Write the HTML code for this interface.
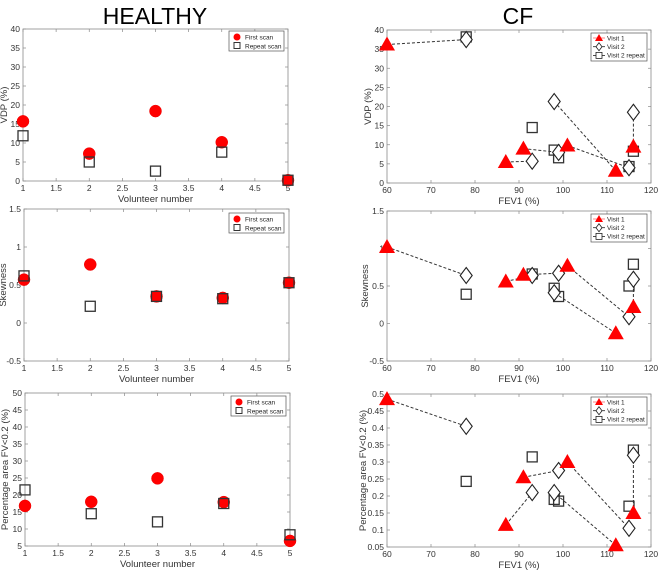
<!DOCTYPE html>
<html><head><meta charset="utf-8"><style>
body{margin:0;background:#fff;font-family:"Liberation Sans",sans-serif}
svg{display:block}
</style></head><body>
<svg id="fig" width="662" height="585" viewBox="0 0 662 585" xmlns="http://www.w3.org/2000/svg" font-family="Liberation Sans, sans-serif">
<text x="155" y="24" font-size="23" text-anchor="middle" fill="#000">HEALTHY</text>
<text x="518" y="24" font-size="23" text-anchor="middle" fill="#000">CF</text>
</svg>
<script>
// Healthy data
const volunteers=[1,2,3,4,5];
const vdpFirst=[15.7,7.2,18.4,10.2,0.2];
const vdpRepeat=[11.9,5.0,2.6,7.6,0.2];
const skewFirst=[0.57,0.77,0.35,0.33,0.53];
const skewRepeat=[0.62,0.22,0.35,0.32,0.53];
const areaFirst=[16.8,18.0,24.9,17.9,6.5];
const areaRepeat=[21.5,14.5,12.1,17.5,8.3];
const healthyXTicks=[1,1.5,2,2.5,3,3.5,4,4.5,5];
const vdpTicks=[0,5,10,15,20,25,30,35,40];
const skewTicks=[-0.5,0,0.5,1,1.5];
const areaTicks=[5,10,15,20,25,30,35,40,45,50];
// CF data (per subject)
const fevV1=[60,87,91,101,112,116];
const fevV2=[78,93,99,115,98,116];
const fevRep=[78,93,98,115,99,116];
const cfVdpV1=[36.2,5.5,9.0,9.8,3.2,9.5];
const cfVdpV2=[37.5,5.7,8.0,4.0,21.3,18.5];
const cfVdpRep=[38.2,14.5,8.6,4.3,6.6,8.3];
const cfSkewV1=[1.02,0.56,0.65,0.77,-0.13,0.22];
const cfSkewV2=[0.64,0.64,0.67,0.09,0.41,0.59];
const cfSkewRep=[0.39,0.66,0.47,0.5,0.36,0.79];
const cfAreaV1=[0.485,0.115,0.255,0.30,0.055,0.15];
const cfAreaV2=[0.405,0.21,0.275,0.105,0.21,0.32];
const cfAreaRep=[0.243,0.315,0.19,0.17,0.185,0.335];
const fevTicks=[60,70,80,90,100,110,120];
const cfVdpTicks=[0,5,10,15,20,25,30,35,40];
const cfSkewTicks=[-0.5,0,0.5,1,1.5];
const cfSkewLabels=['-0.5','0','0.5','1','1.5'];
const cfAreaTicks=[0.05,0.1,0.15,0.2,0.25,0.3,0.35,0.4,0.45,0.5];

const NS='http://www.w3.org/2000/svg';
const svg=document.getElementById('fig');
function mk(tag,attrs,parent){const e=document.createElementNS(NS,tag);for(const k in attrs)e.setAttribute(k,attrs[k]);(parent||svg).appendChild(e);return e;}
function fmt(v){return String(Math.round(v*100)/100);}

function panel(p){
  const g=mk('g',{});
  
  
  const sx=v=>p.x0+(v-p.xmin)/(p.xmax-p.xmin)*(p.x1-p.x0);
  const sy=v=>p.y0+(v-p.ymin)/(p.ymax-p.ymin)*(p.y1-p.y0);
  const L=sx(p.xmin),R=sx(p.xmax),B=sy(p.ymin),T=sy(p.ymax);
  const fr=mk('rect',{x:L,y:T,width:R-L,height:B-T,fill:'none',stroke:'#8a8a8a','stroke-width':0.8},g);
  
  
  p.xt.forEach(v=>{const x=sx(v);
    mk('line',{x1:x,x2:x,y1:B,y2:B-3,stroke:'#8a8a8a','stroke-width':0.7},g);
    mk('line',{x1:x,x2:x,y1:T,y2:T+3,stroke:'#8a8a8a','stroke-width':0.7},g);
    const t=mk('text',{x:x,y:B+10,'font-size':8.5,'text-anchor':'middle',fill:'#333'},g);t.textContent=fmt(v);
    
    });
  p.yt.forEach((v,i)=>{const y=sy(v);
    mk('line',{x1:L,x2:L+3,y1:y,y2:y,stroke:'#8a8a8a','stroke-width':0.7},g);
    mk('line',{x1:R,x2:R-3,y1:y,y2:y,stroke:'#8a8a8a','stroke-width':0.7},g);
    const t=mk('text',{x:L-3,y:y+3,'font-size':8.5,'text-anchor':'end',fill:'#333'},g);t.textContent=p.ytl?p.ytl[i]:fmt(v);
    
    });
  const xl=mk('text',{x:(L+R)/2,y:B+21,'font-size':9.5,'text-anchor':'middle',fill:'#333'},g);xl.textContent=p.xlabel;
  
  
  const yl=mk('text',{x:0,y:0,'font-size':9.5,'text-anchor':'middle',fill:'#333',transform:`translate(${p.ylx},${(T+B)/2}) rotate(-90)`},g);yl.textContent=p.ylabel;
  
  
  return {g,sx,sy,L,R,T,B};
}
function circle(g,x,y){const c=mk('circle',{cx:x,cy:y,r:6,fill:'#f00',stroke:'#e00','stroke-width':0.5},g);return c;}
function square(g,x,y){return mk('rect',{x:x-5,y:y-5,width:10,height:10,fill:'none',stroke:'#333','stroke-width':1.3},g);}
function tri(g,x,y){return mk('polygon',{points:`${x},${y-8} ${x+8},${y+6} ${x-8},${y+6}`,fill:'#f00'},g);}
function diamond(g,x,y){return mk('polygon',{points:`${x},${y-8} ${x+6},${y} ${x},${y+8} ${x-6},${y}`,fill:'#fff',stroke:'#222','stroke-width':1.1},g);}

function healthy(cfg,first,repeat){
  const P=panel(cfg);
  volunteers.forEach((v,i)=>{
    const c=circle(P.g,P.sx(v),P.sy(first[i]));
    
    
  });
  volunteers.forEach((v,i)=>{
    const s=square(P.g,P.sx(v),P.sy(repeat[i]));
    
    
  });
  const lx=cfg.lx,ly=cfg.ly;
  const lg=mk('g',{},P.g);
  
  
  mk('rect',{x:lx,y:ly,width:55,height:20,fill:'#fff',stroke:'#555','stroke-width':0.7},lg);
  mk('circle',{cx:lx+8,cy:ly+6,r:3.5,fill:'#f00'},lg);
  mk('rect',{x:lx+5,y:ly+11.5,width:6,height:6,fill:'none',stroke:'#333','stroke-width':1},lg);
  const t1=mk('text',{x:lx+16,y:ly+8.5,'font-size':6.5,fill:'#222'},lg);t1.textContent='First scan';
  
  
  const t2=mk('text',{x:lx+16,y:ly+17.5,'font-size':6.5,fill:'#222'},lg);t2.textContent='Repeat scan';
  
  
}
function cf(cfg,v1,v2,rep){
  const P=panel(cfg);
  fevV1.forEach((f,i)=>{
    const l=mk('line',{x1:P.sx(f),y1:P.sy(v1[i]),x2:P.sx(fevV2[i]),y2:P.sy(v2[i]),stroke:'#333','stroke-width':1,'stroke-dasharray':'3,2'},P.g);
    
    
  });
  fevRep.forEach((f,i)=>{
    const s=square(P.g,P.sx(f),P.sy(rep[i]));
    
    
  });
  fevV2.forEach((f,i)=>{
    const d=diamond(P.g,P.sx(f),P.sy(v2[i]));
    
    
  });
  fevV1.forEach((f,i)=>{
    const t=tri(P.g,P.sx(f),P.sy(v1[i]));
    
    
  });
  const lx=cfg.lx,ly=cfg.ly;
  const lg=mk('g',{},P.g);
  
  
  mk('rect',{x:lx,y:ly,width:56,height:28,fill:'#fff',stroke:'#555','stroke-width':0.7},lg);
  const rows=['Visit 1','Visit 2','Visit 2 repeat'];
  rows.forEach((r,i)=>{const y=ly+5+i*8.7;
    mk('line',{x1:lx+2,x2:lx+14,y1:y,y2:y,stroke:i==0?'#f66':'#222','stroke-width':0.8},lg);
    if(i==0)mk('polygon',{points:`${lx+8},${y-4} ${lx+12},${y+3} ${lx+4},${y+3}`,fill:'#f00'},lg);
    if(i==1)mk('polygon',{points:`${lx+8},${y-4} ${lx+11},${y} ${lx+8},${y+4} ${lx+5},${y}`,fill:'#fff',stroke:'#222','stroke-width':0.8},lg);
    if(i==2)mk('rect',{x:lx+5,y:y-3,width:6,height:6,fill:'#fff',stroke:'#222','stroke-width':0.8},lg);
    const t=mk('text',{x:lx+16,y:y+2.3,'font-size':6.5,fill:'#222'},lg);t.textContent=r;
    
    
  });
}
healthy({name:'healthy-vdp-chart',xmin:1,xmax:5,x0:23,x1:288,ymin:0,ymax:40,y0:181,y1:29,xt:healthyXTicks,yt:vdpTicks,xlabel:'Volunteer number',ylabel:'VDP (%)',ylx:7,lx:229,ly:31},vdpFirst,vdpRepeat);
healthy({name:'healthy-skewness-chart',xmin:1,xmax:5,x0:24,x1:289,ymin:-0.5,ymax:1.5,y0:361,y1:209,xt:healthyXTicks,yt:skewTicks,xlabel:'Volunteer number',ylabel:'Skewness',ylx:6,lx:229,ly:213},skewFirst,skewRepeat);
healthy({name:'healthy-area-chart',xmin:1,xmax:5,x0:25,x1:290,ymin:5,ymax:50,y0:546,y1:393,xt:healthyXTicks,yt:areaTicks,xlabel:'Volunteer number',ylabel:'Percentage area FV<0.2 (%)',ylx:8,lx:231,ly:396},areaFirst,areaRepeat);
cf({name:'cf-vdp-chart',xmin:60,xmax:120,x0:387,x1:651,ymin:0,ymax:40,y0:183,y1:30,xt:fevTicks,yt:cfVdpTicks,xlabel:'FEV1 (%)',ylabel:'VDP (%)',ylx:371,lx:591,ly:33},cfVdpV1,cfVdpV2,cfVdpRep);
cf({name:'cf-skewness-chart',xmin:60,xmax:120,x0:387,x1:651,ymin:-0.5,ymax:1.5,y0:361,y1:211,xt:fevTicks,yt:cfSkewTicks,ytl:cfSkewLabels,xlabel:'FEV1 (%)',ylabel:'Skewness',ylx:368,lx:591,ly:214},cfSkewV1,cfSkewV2,cfSkewRep);
cf({name:'cf-area-chart',xmin:60,xmax:120,x0:387,x1:651,ymin:0.05,ymax:0.5,y0:547,y1:394,xt:fevTicks,yt:cfAreaTicks,xlabel:'FEV1 (%)',ylabel:'Percentage area FV<0.2 (%)',ylx:366,lx:591,ly:397},cfAreaV1,cfAreaV2,cfAreaRep);
</script>
</body></html>
